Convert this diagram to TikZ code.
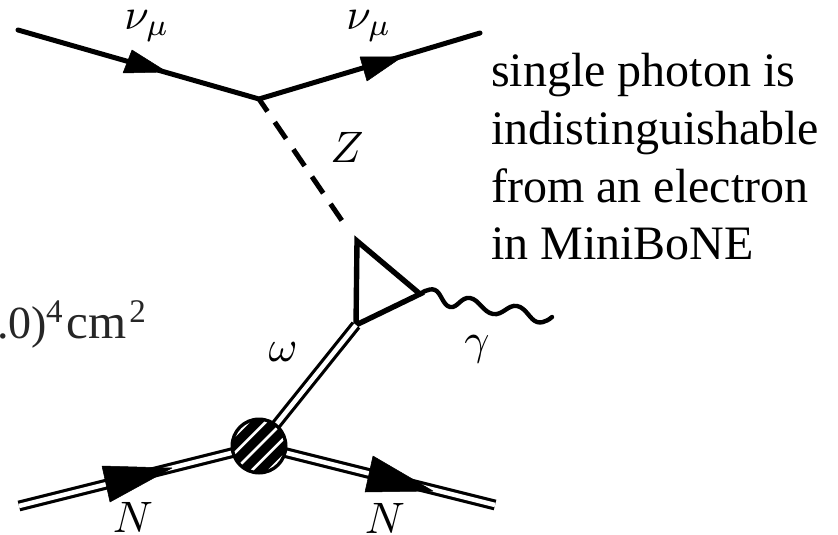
\documentclass[tikz,border=0pt]{standalone}
\usepackage{fontspec}
\usetikzlibrary{calc}
\setmainfont{Liberation Serif}
\begin{document}
\begin{tikzpicture}[x=1pt,y=-1pt,
  fermion/.style={line width=5pt,line cap=round},
  hadron/.style={double,double distance=4.5pt,line width=3.2pt},
  headtip/.style={fill=black,draw=black,line width=0.5pt,line join=round},
  mathlabel/.style={scale=4.4,inner sep=0pt},
  notetext/.style={font=\fontsize{48}{50}\selectfont,anchor=base west,inner sep=0pt},
  rate/.style={font=\fontsize{46}{50}\selectfont,anchor=base west,inner sep=0pt,text=black!85}]
\useasboundingbox (0,0) rectangle (838,535);
\clip (0,0) rectangle (838,535);
\fill[white] (0,0) rectangle (838,535);
% coordinates
\coordinate (nuin) at (18,30);
\coordinate (vz) at (259,99);
\coordinate (nuout) at (480,33);
\coordinate (tl) at (357,241);
\coordinate (tr) at (420,294);
\coordinate (tb) at (356,325);
\coordinate (zend) at (349,231);
\coordinate (nin) at (19,506);
\coordinate (nout) at (495,505);
\node[circle,minimum size=54pt,inner sep=0pt] (blob) at (259,446) {};
% fermions
\draw[fermion] (nuin) -- (vz) -- (nuout);
\fill[headtip] (132,50) -- (123,73) -- (167,72) -- cycle;
\fill[headtip] (360,57) -- (367,81) -- (402,57) -- cycle;
% Z
\draw[line width=5pt,dash pattern=on 20pt off 13pt,dash phase=5pt] (vz) -- (zend);
% triangle
\draw[line width=5.4pt,line join=miter] (tl) -- (tr) -- (tb) -- cycle;
% photon
\draw[line width=4.4pt,line cap=round] plot[smooth,tension=0.75] coordinates {(tr) (435,290) (450,307) (470,298) (493,314) (517,306) (537,322) (552,317)};
% hadrons
\draw[hadron] (tb) -- (blob);
\draw[hadron] (nin) -- (blob);
\draw[hadron] (blob) -- (nout);
\fill[headtip] (102,466) -- (110,502) -- (172,468) -- cycle;
\fill[headtip] (373,456) -- (365,492) -- (433,491) -- cycle;
% blob
\fill[black] (blob.center) circle (28.5pt);
\begin{scope}
\clip (blob.center) circle (25pt);
\foreach \o in {-36,-24,-12,0,12,24,36}
  \draw[white,line width=2.6pt] ($(blob.center)+({\o*0.72-30},{\o*0.72+30})$) -- ($(blob.center)+({\o*0.72+30},{\o*0.72-30})$);
\end{scope}
% labels
\node[mathlabel] (l1) at (147,26) {$\nu_\mu$};
\node[mathlabel] (l2) at (369,26) {$\nu_\mu$};
\node[mathlabel] (l3) at (347,147) {$Z$};
\node[mathlabel] (l4) at (283,352) {$\omega$};
\node[mathlabel] (l5) at (477,349) {$\gamma$};
\node[mathlabel] (l6) at (133,517) {$N$};
\node[mathlabel] (l7) at (385,518) {$N$};
\node[notetext] (t1) at (491,86) {single photon is};
\node[notetext] (t2) at (491,144) {indistinguishable};
\node[notetext] (t3) at (491,202) {from an electron};
\node[notetext] (t4) at (491,259) {in MiniBoNE};
\node[rate] (r) at (-3,338) {.0)\hspace{-1pt}\raisebox{16pt}{\fontsize{33}{33}\selectfont 4}\hspace{4pt}{\fontsize{49}{50}\selectfont cm}\hspace{3pt}\raisebox{16pt}{\fontsize{33}{33}\selectfont 2}};
\end{tikzpicture}
\end{document}
